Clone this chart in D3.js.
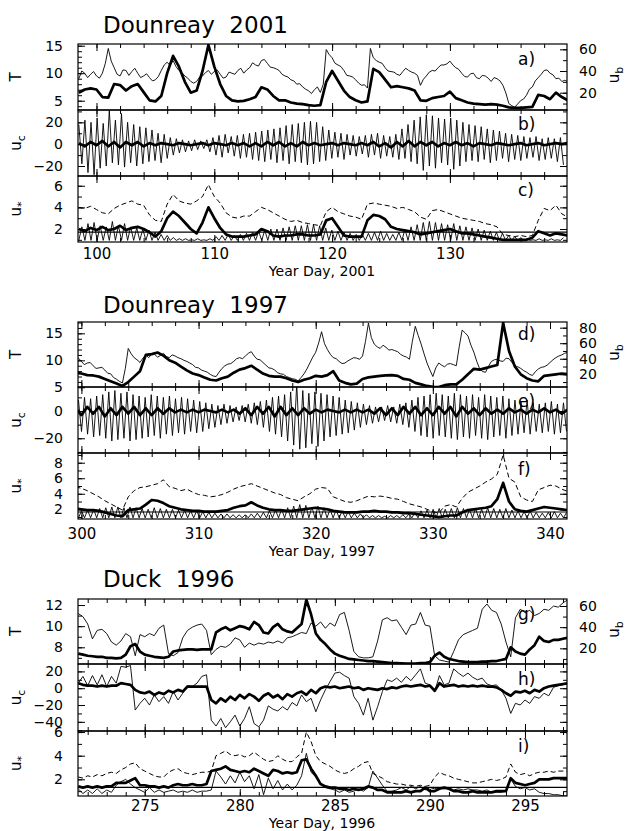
<!DOCTYPE html>
<html>
<head>
<meta charset="utf-8">
<script src="https://cdn.jsdelivr.net/npm/d3@7"></script>
<style>
  body { margin: 0; background: #fff; }
  svg text { font-family: "DejaVu Sans", sans-serif; fill: #000; }
</style>
</head>
<body>
<svg id="fig" width="626" height="831"></svg>
<script>
// ---------------------------------------------------------------
// Dounreay 2001
// ---------------------------------------------------------------
const start2001 = 98.5, step2001 = 0.5;      // half-day series
const stepT2001 = 0.25;                       // wave period is quarter-day
const T2001 = [9,10.4,10,9.2,9.8,10.3,9.5,9.1,10,11.8,14.5,12.2,11,9.8,9.5,10.6,10.5,9.6,10.3,10.9,
  10,9.2,9.5,9.9,9.2,8.6,8.8,9.4,10.5,11.5,12,11.4,12.3,11.2,10.5,10.1,9.5,9.1,8.5,8.2,
  8.5,9.3,9.5,10.1,10.5,9.8,10.3,10.6,9.8,9.1,9.3,10.2,10,9.8,10.5,10.9,10,10.6,11,11.9,
  11.5,11.3,12.3,12.5,11.8,11.1,11,10.8,10.5,9.8,9.5,9.3,8.8,8.6,8,8.1,7.5,7.1,6.8,6.3,
  7,7.5,6.5,8,14.3,13.4,12.8,11.8,11.5,11.2,10.5,9.6,9.5,9.3,8.8,8.2,7.8,7.9,7.3,14.5,
  12.8,12.3,12,11.8,11,10.4,10.3,10.2,9.8,9.6,10.3,10.9,10.5,10.2,10,9.6,7.8,8.9,9.5,10.2,
  10.5,10.4,11,11.5,11.5,11.7,12.2,11.5,11,10.7,10,9.4,9.3,9.9,10,9.2,9,9.6,9.5,9.1,
  8.5,9.2,9,8.6,7.8,6.4,4.5,4.1,3.8,4.4,5,5.3,6,7.1,7.5,8.6,9.2,9.8,10.5,10.6,
  10,9.7,9,9.1,8.5,8.7,8.5];
const ub2001 = [20,23,24,23,16,15.5,28,27,22,26,
  28,20.5,13,12,17,38,54,44,30,20,
  22,40,64,44,28,17,13,12,12.5,14,
  16,25,23,17,13,13,11,10,9.5,8.5,
  8,8.5,30,40,31,22,16,13,11,12,
  42,39,32,25,26,25,24,22,13,12.5,
  15,16,17,21,15,13,11,10,9.5,9,
  9.5,9,8,6.5,6,6,6.5,7,18,17,
  14,20,16,13];
const ucMean2001 = [1,-2,2,-1,3,-2,2,-3,2,-1,
  2,-2,1,-1,1,0,-1,1,0,-1,
  0,1,-1,1,0,-1,1,-1,1,-2,
  1,-2,2,-1,2,-2,1,-2,2,-1,
  1,-1,0,1,-1,1,0,-1,1,-1,
  2,-2,1,-3,2,-2,3,-2,2,-1,
  2,-2,1,-1,2,-1,1,-2,1,0,
  -1,1,0,-1,0,1,-1,0,1,-1,
  0,1,0,1];
const ustarWave2001 = [4.0,3.9,4.1,3.8,3.5,3.4,3.9,4.2,4.4,4.6,
  4.3,4.2,3.3,2.8,2.7,4.3,5.2,4.6,4.4,4.3,
  4.6,5.0,6.1,5.0,4.4,3.5,3.1,3.0,3.2,3.2,
  3.6,4.0,3.8,3.5,3.2,2.9,2.7,2.8,2.6,2.5,
  2.4,2.3,3.6,4.0,3.6,3.4,3.2,3.1,2.9,4.3,
  4.4,4.3,4.2,4.1,3.9,4.0,3.8,3.6,3.1,2.9,
  3.7,3.8,3.6,3.4,3.2,3.0,2.9,2.8,2.7,2.5,
  2.4,2.2,1.5,1.4,1.3,1.4,1.3,1.4,2.8,3.9,
  3.7,4.2,3.4,3.1];
const ustarMean2001 = [2.0,1.8,2.1,1.9,2.2,1.9,2.0,2.3,1.9,2.1,
  2.2,2.0,1.7,1.3,1.8,3.0,3.6,3.2,2.6,2.0,
  1.6,2.6,4.0,3.0,2.1,1.5,1.3,1.3,1.3,1.4,
  1.5,2.0,1.8,1.4,1.3,1.4,1.4,1.5,1.5,1.4,
  1.4,1.5,2.8,3.0,2.2,1.4,1.3,1.3,1.3,2.8,
  3.3,3.2,2.9,2.2,2.0,1.9,1.8,1.7,1.5,1.6,
  1.7,1.8,1.9,2.0,1.8,1.6,1.6,1.5,1.4,1.3,
  1.2,1.1,1.0,1.0,1.0,1.0,1.0,1.2,1.8,1.6,
  1.4,1.6,1.5,1.4];
// tidal cycles (M2, 0.5175 d): one flood maximum and one ebb minimum per cycle
const tide2001Start = 98.5, tidePeriod = 0.5175;
const ucFlood2001 = [18,22,20,24,19,31,22,28,20,18,16,15,
  13,10,9,6,5,4, 3,4,3,4, 6,8,9,7,
  8,9,10,11,12,13,14,15,17,18,19,20,21,20,
  16,13,11,10,9,8,7,8,9,10,8,7,9,
  14,18,22,25,27,26,24, 23,24,22,20,18,17,
  16,14,13,12,10,9, 8,7,6,7,5,6,5,6];
const ucEbb2001 = [-18,-26,-28,-22,-20,-17,
  -19,-21,-17,-20,-18,-16,-15,-17,-13,
  -10,-8,-7,-6,-5,-4,-7,
  -10,-12,-8,-11,-13,-12,
  -14,-15,-16,-14,-17,-15,-18,-16,-17,-19,-18,-16,
  -15,-13,-12,-14,-10,-11,-9,-12,-10,-13,-11,-12,-14,-13,
  -16,-18,-24,-20,-22,-17,-19,-23,-20,-16,
  -15,-16,-14,-17,-15,-13,-16,-14,-15,-13,-12,-15,-14,-13,-16,-19];
const ustarTide2001 = [2.2,2.5,2.6,2.3,2.2,2.7,2.3,2.5,2.2,2.1,2.0,1.9,
  1.7,1.5,1.4,1.2,1.1,1.1, 1.0,1.1,1.0,1.1, 1.3,1.4,1.5,1.4,
  1.5,1.6,1.7,1.8,1.9,2.0,2.0,2.1,2.2,2.3,2.3,2.4,2.4,2.3,
  2.1,1.9,1.8,1.7,1.6,1.5,1.5,1.6,1.7,1.8,1.6,1.5,1.7,
  2.0,2.2,2.4,2.6,2.7,2.6,2.5, 2.4,2.5,2.3,2.2,2.1,2.0,
  1.9,1.8,1.7,1.6,1.4,1.3, 1.2,1.1,1.0,1.1,1.0,1.1,1.0,1.2];
const ustarSlack2001 = 0.95;
const ustarCrit2001 = 1.72;

// ---------------------------------------------------------------
// Dounreay 1997
// ---------------------------------------------------------------
const start1997 = 299.5, step1997 = 0.5, stepT1997 = 0.25;
const T1997 = [10,10.4,9.8,9.2,9.5,9.6,9,8.5,8.6,8.7,8.2,7.6,7.5,6.8,6.5,6.1,5.8,8.5,12.2,11.2,
  10.5,10.1,9.6,10.4,11,10.5,11.2,11.1,10.6,10.9,11.3,10.7,10.5,11.0,10.8,10.5,10.3,10.0,9.8,9.5,
  9.2,8.7,8.6,8.2,8,7.8,7.4,7.1,7,7.8,8.5,9.0,9.3,9.4,9.8,10.3,10.5,10.3,10.8,11.3,
  11.6,10.8,10.2,10.1,9.6,9.1,8.6,8.5,8.2,7.7,7.5,7.4,7,6.8,6.6,6.5,6.2,6.8,7.5,8.4,
  9.5,10.6,11.5,13.2,15.3,13.1,12,11.1,10.5,10.3,9.8,9.4,9.5,9.9,10.2,10.5,10.4,10.2,10.8,13.5,
  16.9,14.2,13,12.5,12.2,12.8,12.4,11.9,12,11.8,11.6,11.1,10.8,10.6,10.2,13.5,16.3,14.6,13,11.2,
  9.5,8.2,7,8.6,9.5,9.1,8.8,9.3,9.4,9.2,9,12.5,15.6,15.1,14.5,12.8,11.5,9.8,8.4,7.9,
  7.8,8.9,9.8,10.1,10.2,9.9,9.8,10.4,10.3,9.6,9,8.8,8.5,8.1,7.8,7.4,7.2,7.9,8.4,8.7,
  8.8,9.1,9.6,10.1,10.5,10.8,11,11.3,11.5];
const ub1997 = [22,21,19,18.5,17,14,11,8,5,10,
  17,24,45,46,48,44,38,35,30,25,
  21,19,16,13,12,15,17,22,26,28,
  31,26,21,18,17,17,15,12,10,13,
  15,18,17,19,24,12,9,7,8,14,
  16,17,18,18.5,19,18,14,13,9,7,
  5,4,3.5,6,7,7,13,20,27,26,
  28,30,32,86,50,30,20,15,12,11,
  18,19,20,21,20];
const ucMean1997 = [2,-3,3,-2,3,-4,2,-3,3,-2,
  3,-3,2,-3,2,-2,2,-1,1,-1,
  1,-1,1,0,-1,1,-1,1,-2,2,
  -3,3,-2,3,-4,3,-3,2,-3,2,
  -2,1,-1,1,0,-1,1,-1,1,-1,
  1,-2,2,-3,2,-3,3,-2,3,-3,
  2,-3,3,-2,3,-4,3,-2,2,-3,
  2,-2,1,-2,2,-1,1,-2,1,-1,
  2,-1,1,-2,1];
const ustarWave1997 = [4.9,4.7,4.4,4.0,3.6,3.1,2.7,2.3,1.9,3.6,
  4.4,4.8,4.9,5.1,5.3,5.8,4.9,4.7,4.4,4.6,
  4.2,3.9,3.8,3.6,3.7,3.9,4.2,4.6,4.9,5.1,
  5.3,5.0,4.7,4.4,4.1,3.9,3.5,3.3,3.1,3.6,
  4.0,4.6,4.8,4.7,3.6,3.3,3.0,2.9,3.1,3.4,
  3.7,3.6,3.7,3.6,3.4,3.3,3.0,2.7,2.5,2.3,
  2.0,1.7,1.5,2.4,2.6,2.3,3.4,4.2,4.6,5.0,
  5.5,5.9,6.5,9.0,6.0,5.5,3.6,3.2,3.0,4.5,
  4.8,5.1,5.0,4.6,4.3];
const ustarMean1997 = [2.1,2.0,1.9,1.9,1.8,1.6,1.4,1.2,1.1,1.9,
  2.0,2.1,2.6,3.2,3.1,2.8,2.4,2.2,2.0,1.9,
  1.8,1.8,1.7,1.7,1.7,1.8,1.9,2.2,2.4,2.5,
  2.9,2.5,2.2,2.0,1.9,1.9,1.8,1.8,1.9,2.0,
  2.1,2.2,2.1,2.0,1.8,1.7,1.6,1.6,1.6,1.7,
  1.7,1.8,1.7,1.7,1.6,1.6,1.5,1.5,1.4,1.3,
  1.2,1.1,1.0,1.1,1.2,1.2,1.6,1.9,2.0,2.1,
  2.2,2.4,3.3,5.4,3.0,2.0,1.8,1.7,1.9,2.1,
  2.3,2.2,2.1,2.0,1.9];
const tide1997Start = 299.75;
const ucFlood1997 = [8,10,9,11,12,14,15,13,14,12,
  11,10,12,11,10,11,9,10,9,8,
  7,6,5,4,5,4,3,4,5,6,7,
  8,10,11,12,14,20,15,13,14,13,
  12,11,10,8,7,6,5,4,3,
  3,4,3,5,6,8,10,
  11,12,13,12,11,13,12,11,12,10,12,11,10,11,
  9,8,7,8,6,5,6,7,5,6];
const ucEbb1997 = [-15,-17,-19,-18,-20,-22,-21,-20,-22,-21,
  -20,-19,-18,-20,-17,-18,-16,-17,-15,-16,
  -15,-13,-12,-10,-9,-8,-7,-8,-9,-10,-12,
  -15,-17,-19,-22,-25,-28,-27,-24,-26,-22,
  -19,-18,-17,-16,-14,-12,-10,-9,-8,
  -7,-8,-9,-10,-12,-15,-18,
  -19,-20,-18,-19,-20,-21,-19,-20,-18,-20,-21,-19,-18,-20,
  -18,-17,-16,-17,-15,-16,-15,-17,-16,-15];
const ustarTide1997 = [1.8,1.9,2.0,2.1,2.2,2.3,2.3,2.2,2.3,2.2,
  2.1,2.0,2.2,2.1,2.0,2.0,1.9,1.9,1.8,1.8,
  1.7,1.6,1.5,1.4,1.4,1.3,1.3,1.3,1.4,1.5,1.6,
  1.8,1.9,2.0,2.2,2.4,2.6,2.5,2.3,2.4,2.2,
  2.0,1.9,1.8,1.7,1.5,1.4,1.3,1.2,1.2,
  1.1,1.2,1.2,1.3,1.4,1.6,1.8,
  1.9,2.0,2.1,2.0,2.1,2.2,2.1,2.0,2.1,2.0,2.2,2.1,2.0,2.1,
  1.9,1.8,1.7,1.8,1.6,1.5,1.6,1.7,1.5,1.6];
const ustarSlack1997 = 0.9;
const ustarCrit1997 = 1.65;

// ---------------------------------------------------------------
// Duck 1996 : quarter-day samples starting at day 271.5
// ---------------------------------------------------------------
const start1996 = 271.5, step1996 = 0.25;
const T1996 = [11.2,10.9,10.2,8.8,9.6,9.7,9.3,8.5,8.2,8.6,
  9.3,9.0,7.2,9.2,9.0,9.3,9.1,9.8,10.1,7.4,
  7.2,7.5,8.9,9.6,9.9,10.1,10.2,9.6,7.3,7.8,
  8.1,8.0,8.3,8.9,8.7,8.0,8.4,8.2,8.4,8.3,
  8.5,8.4,8.6,8.4,8.9,9.0,9.2,9.4,9.3,10.3,
  10.0,10.4,9.8,10.3,10.0,11.1,11.3,9.6,7.6,7.1,
  7.0,7.0,7.1,8.6,10.6,10.8,10.5,10.6,9.9,9.2,
  10.1,10.2,11.3,10.1,10.0,7.2,6.8,6.7,6.6,7.6,
  8.7,9.2,9.4,9.6,9.8,11.6,12.1,11.5,11.3,10.2,
  8.5,7.1,10.8,11.6,11.3,11.5,11.0,11.2,11.6,11.5,
  11.9,11.8,12.2,12.5];
const ub1996 = [15,14,13,12.5,12,12,11,11,10.5,11,
  14,22,24,17,14,13,12,11.5,11,12,
  17,18,18.5,19,19,18.5,19,19,19,35,
  38,40,37,39,41,40,38,45,42,35,
  34,40,43,38,36,35,39,43,66,52,
  34,28,24,19,15,13,11.5,10,9.5,9,
  8.5,8,8,7.5,7,6.5,6,6,5.8,5.5,
  5.5,5.5,6,6,7,13,16,12,10,9,
  8,7.5,7,7,7,7.5,7.5,8,8,9,
  10,21,17,15,14,19,23,31,27,26,
  28,28,29,30];
const uc1996 = [6,14,3,15,4,16,2,14,6,26,
  25,27,-26,-18,-12,-20,-8,-16,-10,-18,
  -4,-14,-6,3,2,6,14,16,-38,-45,
  -36,-47,-40,-32,-45,-36,-22,-42,-46,-38,
  -21,-25,-27,-22,-26,-17,-21,-8,-16,-12,
  -28,-14,-2,8,18,19,15,12,-10,-18,
  -32,-12,-38,-22,-4,10,8,12,7,14,
  9,16,23,6,4,-4,15,4,6,23,
  18,14,18,13,10,12,5,3,4,-2,
  -12,-30,-18,-20,-14,-18,-10,-12,-6,-9,
  1,3,4,5];
const ucMean1996 = [6,4,3,3,2,3,2,3,3,6,
  5,4,-2,-5,-6,-4,-8,-5,-7,-3,
  -5,-2,-4,2,2,2,2,2,-14,-18,
  -12,-16,-10,-14,-8,-12,-7,-10,-15,-9,
  -6,-11,-8,-13,-7,-10,-6,-4,-8,-2,
  -6,0,2,1,2,0,1,2,0,1,
  -2,0,-1,-2,0,-1,1,0,2,3,
  2,3,4,2,3,-3,6,2,3,4,
  2,3,2,3,2,3,2,2,1,-2,
  -6,-9,-4,-5,-3,-6,-2,-4,0,2,
  3,4,5,6];
const ustarWave1996 = [2.2,2.1,2.3,2.2,2.4,2.3,2.5,2.6,2.5,2.8,
  3.0,3.3,3.4,2.9,2.7,2.5,2.3,2.2,2.2,2.6,
  2.8,2.9,2.6,2.5,2.4,2.5,2.6,2.6,2.7,4.0,
  4.2,4.4,4.1,4.0,4.1,3.9,4.0,4.3,4.0,3.7,
  3.5,3.6,4.0,3.7,3.5,3.5,3.9,4.2,6.0,5.2,
  4.0,3.5,3.3,3.1,2.8,2.6,2.5,2.6,2.9,3.1,
  3.4,3.5,2.5,2.3,2.1,1.8,1.7,1.6,1.6,1.5,
  1.5,1.4,1.5,1.4,1.5,2.2,2.6,2.4,2.3,2.1,
  2.0,1.9,1.8,1.7,1.7,1.8,1.9,2.0,1.9,2.0,
  2.2,3.3,2.6,2.4,2.5,2.3,2.5,2.6,2.6,2.7,
  2.6,2.7,2.7,2.7];
const ustarMean1996 = [1.4,1.3,1.4,1.3,1.4,1.3,1.4,1.4,1.7,1.7,
  1.7,1.9,2.1,1.5,1.5,1.4,1.4,1.3,1.4,1.3,
  1.5,1.6,1.5,1.5,1.6,1.5,1.5,1.6,2.7,2.8,
  2.9,3.1,2.8,2.7,2.6,2.7,2.6,2.9,2.7,2.5,
  2.3,2.8,2.7,2.5,2.6,2.5,2.6,3.6,3.7,2.9,
  2.3,1.6,1.4,1.3,1.3,1.2,1.2,1.1,1.2,1.1,
  1.2,1.4,1.3,1.1,1.1,0.9,0.9,0.9,0.9,1.0,
  0.9,1.0,1.0,1.3,1.0,1.0,1.2,1.3,1.2,1.0,
  1.0,0.9,0.9,1.0,0.9,0.9,0.9,0.9,1.0,1.0,
  1.0,2.1,1.7,1.6,1.5,1.6,1.7,2.0,2.0,2.0,
  2.1,2.1,2.1,2.1];
const ustarCurrent1996 = [1.2,0.8,1.1,0.8,1.2,0.8,1.1,0.9,1.5,1.8,
  2.0,1.6,1.3,1.1,0.9,1.3,0.9,1.1,0.9,1.0,
  1.1,0.9,1.0,0.9,1.1,0.9,1.0,1.0,1.1,2.7,
  2.2,1.6,2.3,1.7,2.6,1.8,2.3,1.2,2.4,0.7,
  2.1,1.2,1.9,1.1,1.6,1.1,1.5,2.3,4.2,2.6,
  2.2,1.6,1.3,1.2,1.1,0.9,1.1,0.9,1.0,1.2,
  1.0,1.3,2.7,2.1,1.5,1.0,1.0,1.1,1.3,1.1,
  1.4,1.2,1.4,1.1,1.3,1.2,1.3,1.2,1.3,1.1,
  1.2,1.1,1.2,1.1,1.1,1.0,1.1,0.9,0.9,0.9,
  1.0,2.0,1.4,1.2,1.3,1.1,1.2,0.9,0.8,0.8,
  0.7,0.7,0.6,0.6];
const ustarCrit1996 = 1.32;

// ---------------------------------------------------------------
// helpers turning the arrays into [day, value] points
// ---------------------------------------------------------------
const regular = (vals, t0, dt) => vals.map((v, i) => [t0 + i * dt, v]);
function tidal(highs, lows, t0, period) {
  const pts = [];
  highs.forEach((h, i) => {
    pts.push([t0 + i * period, h]);
    if (i < lows.length) pts.push([t0 + (i + 0.5) * period, lows[i]]);
  });
  return pts;
}
function tidalAboveFloor(peaks, floor, t0, period) {
  const pts = [];
  peaks.forEach((p, i) => {
    pts.push([t0 + i * period, floor]);
    pts.push([t0 + (i + 0.5) * period, p]);
  });
  return pts;
}

// ---------------------------------------------------------------
// figure layout
// ---------------------------------------------------------------
const X_LEFT = 78, X_RIGHT = 567;
const TICK_FS = 14;

const groups = [
  {
    title: "Dounreay  2001", titleBase: 33,
    days: [98.43, 139.94], minorDays: d3.range(100, 140, 2), majorDays: [100, 110, 120, 130],
    xTitle: "Year Day, 2001", tickBase: 259, xTitleBase: 276,
    panels: [
      { top: 44, bottom: 110, tag: "a)", tagBase: 65,
        left: { domain: [3.31, 15.31], minor: d3.range(4, 16), major: [5, 10, 15], name: ["T"] },
        right: { domain: [4.06, 64.9], minor: d3.range(10, 61, 10), major: [20, 40, 60], name: ["u", "b"] },
        series: [
          { pts: regular(T2001, start2001, stepT2001), side: "left", kind: "thin" },
          { pts: regular(ub2001, start2001, step2001), side: "right", kind: "thick" } ] },
      { top: 110, bottom: 176, tag: "b)", tagBase: 130,
        left: { domain: [-29.15, 31.3], minor: d3.range(-20, 31, 10), major: [-20, 0, 20], name: ["u", "c"] },
        series: [
          { pts: tidal(ucFlood2001, ucEbb2001, tide2001Start, tidePeriod), side: "left", kind: "thin" },
          { pts: regular(ucMean2001, start2001, step2001), side: "left", kind: "thick" } ] },
      { top: 176, bottom: 242, tag: "c)", tagBase: 196,
        left: { domain: [0.8, 6.9], minor: d3.range(1, 7), major: [2, 4, 6], name: ["u", "*"] },
        crit: ustarCrit2001,
        series: [
          { pts: tidalAboveFloor(ustarTide2001, ustarSlack2001, tide2001Start, tidePeriod), side: "left", kind: "thin" },
          { pts: regular(ustarWave2001, start2001, step2001), side: "left", kind: "dash" },
          { pts: regular(ustarMean2001, start2001, step2001), side: "left", kind: "thick" } ] }
    ]
  },
  {
    title: "Dounreay  1997", titleBase: 313,
    days: [299.71, 341.45], minorDays: d3.range(300, 342, 2), majorDays: [300, 310, 320, 330, 340],
    xTitle: "Year Day, 1997", tickBase: 538.5, xTitleBase: 555.5,
    panels: [
      { top: 322, bottom: 387, tag: "d)", tagBase: 340,
        left: { domain: [5.06, 17.1], minor: d3.range(6, 18), major: [5, 10, 15], name: ["T"] },
        right: { domain: [3.65, 87.3], minor: d3.range(10, 81, 10), major: [20, 40, 60, 80], name: ["u", "b"] },
        series: [
          { pts: regular(T1997, start1997, stepT1997), side: "left", kind: "thin" },
          { pts: regular(ub1997, start1997, step1997), side: "right", kind: "thick" } ] },
      { top: 387, bottom: 453, tag: "e)", tagBase: 407,
        left: { domain: [-30.8, 17.6], minor: d3.range(-30, 17, 10), major: [-20, 0], name: ["u", "c"] },
        series: [
          { pts: tidal(ucFlood1997, ucEbb1997, tide1997Start, tidePeriod), side: "left", kind: "thin" },
          { pts: regular(ucMean1997, start1997, step1997), side: "left", kind: "thick" } ] },
      { top: 453, bottom: 519, tag: "f)", tagBase: 475,
        left: { domain: [0.75, 9.25], minor: d3.range(1, 10), major: [2, 4, 6, 8], name: ["u", "*"] },
        crit: ustarCrit1997,
        series: [
          { pts: tidalAboveFloor(ustarTide1997, ustarSlack1997, tide1997Start, tidePeriod), side: "left", kind: "thin" },
          { pts: regular(ustarWave1997, start1997, step1997), side: "left", kind: "dash" },
          { pts: regular(ustarMean1997, start1997, step1997), side: "left", kind: "thick" } ] }
    ]
  },
  {
    title: "Duck  1996", titleBase: 587,
    days: [271.49, 297.21], minorDays: d3.range(272, 298, 1), majorDays: [275, 280, 285, 290, 295],
    xTitle: "Year Day, 1996", tickBase: 811, xTitleBase: 827.5,
    panels: [
      { top: 599, bottom: 664, tag: "g)", tagBase: 620,
        left: { domain: [6.42, 12.57], minor: d3.range(7, 13), major: [8, 10, 12], name: ["T"] },
        right: { domain: [5.2, 66.6], minor: d3.range(10, 61, 10), major: [20, 40, 60], name: ["u", "b"] },
        series: [
          { pts: regular(T1996, start1996, step1996), side: "left", kind: "thin" },
          { pts: regular(ub1996, start1996, step1996), side: "right", kind: "thick" } ] },
      { top: 664, bottom: 731, tag: "h)", tagBase: 685,
        left: { domain: [-50.9, 28.8], minor: d3.range(-50, 21, 10), major: [-40, -20, 0, 20], name: ["u", "c"] },
        series: [
          { pts: regular(uc1996, start1996, step1996), side: "left", kind: "thin" },
          { pts: regular(ucMean1996, start1996, step1996), side: "left", kind: "thick" } ] },
      { top: 731, bottom: 796, tag: "i)", tagBase: 752,
        left: { domain: [0.59, 6.09], minor: d3.range(1, 7), major: [2, 4, 6], name: ["u", "*"] },
        crit: ustarCrit1996,
        series: [
          { pts: regular(ustarCurrent1996, start1996, step1996), side: "left", kind: "thin" },
          { pts: regular(ustarWave1996, start1996, step1996), side: "left", kind: "dash" },
          { pts: regular(ustarMean1996, start1996, step1996), side: "left", kind: "thick" } ] }
    ]
  }
];

const styles = {
  thin:  { width: 0.9, dash: null },
  thick: { width: 2.7, dash: null },
  dash:  { width: 1.0, dash: "5,3" }
};

const svg = d3.select("#fig");
let clipId = 0;

function stripDomain(g) { g.select(".domain").remove(); g.attr("font-family", null).attr("font-size", TICK_FS); }

function axisName(x, y, name) {
  const t = svg.append("text")
    .attr("transform", `translate(${x},${y}) rotate(-90)`)
    .attr("text-anchor", "middle")
    .attr("font-size", 15);
  t.append("tspan").text(name[0]);
  if (name[1]) t.append("tspan").attr("dy", 4).attr("font-size", 11).text(name[1]);
}

groups.forEach(grp => {
  const x = d3.scaleLinear().domain(grp.days).range([X_LEFT, X_RIGHT]);

  svg.append("text")
    .attr("x", 103).attr("y", grp.titleBase)
    .attr("font-size", 23)
    .style("white-space", "pre")
    .text(grp.title);

  grp.panels.forEach((p, pi) => {
    const yL = d3.scaleLinear().domain(p.left.domain).range([p.bottom, p.top]);
    const yR = p.right ? d3.scaleLinear().domain(p.right.domain).range([p.bottom, p.top]) : yL;

    // data
    const id = "clip" + (clipId++);
    svg.append("clipPath").attr("id", id)
      .append("rect").attr("x", X_LEFT).attr("y", p.top)
      .attr("width", X_RIGHT - X_LEFT).attr("height", p.bottom - p.top);
    const plot = svg.append("g").attr("clip-path", `url(#${id})`);

    p.series.forEach(s => {
      const ys = s.side === "right" ? yR : yL;
      const st = styles[s.kind];
      plot.append("path")
        .datum(s.pts)
        .attr("fill", "none")
        .attr("stroke", "#000")
        .attr("stroke-width", st.width)
        .attr("stroke-linejoin", "round")
        .attr("stroke-dasharray", st.dash)
        .attr("d", d3.line().x(d => x(d[0])).y(d => ys(d[1])));
    });

    if (p.crit !== undefined) {
      plot.append("line")
        .attr("x1", X_LEFT).attr("x2", X_RIGHT)
        .attr("y1", yL(p.crit)).attr("y2", yL(p.crit))
        .attr("stroke", "#000").attr("stroke-width", 1.2);
    }

    // frame
    svg.append("rect")
      .attr("x", X_LEFT).attr("y", p.top)
      .attr("width", X_RIGHT - X_LEFT).attr("height", p.bottom - p.top)
      .attr("fill", "none").attr("stroke", "#000").attr("stroke-width", 1.2);

    // time ticks, top and bottom, pointing inwards
    [[d3.axisTop, p.top], [d3.axisBottom, p.bottom]].forEach(([axisFn, yPos]) => {
      svg.append("g").attr("transform", `translate(0,${yPos})`)
        .call(axisFn(x).tickValues(grp.minorDays).tickSizeInner(-4).tickSizeOuter(0).tickFormat(""))
        .call(stripDomain);
      svg.append("g").attr("transform", `translate(0,${yPos})`)
        .call(axisFn(x).tickValues(grp.majorDays).tickSizeInner(-7).tickSizeOuter(0).tickFormat(""))
        .call(stripDomain);
    });

    // left axis
    svg.append("g").attr("transform", `translate(${X_LEFT},0)`)
      .call(d3.axisLeft(yL).tickValues(p.left.minor).tickSizeInner(-4).tickSizeOuter(0).tickFormat(""))
      .call(stripDomain);
    svg.append("g").attr("transform", `translate(${X_LEFT},0)`)
      .call(d3.axisLeft(yL).tickValues(p.left.major).tickSizeInner(-7).tickSizeOuter(0).tickPadding(15)
        .tickFormat(d => d < 0 ? "\u2212" + Math.abs(d) : d))
      .call(stripDomain);
    axisName(21, (p.top + p.bottom) / 2, p.left.name);

    // right axis
    const rSpec = p.right || p.left;
    svg.append("g").attr("transform", `translate(${X_RIGHT},0)`)
      .call(d3.axisRight(yR).tickValues(rSpec.minor).tickSizeInner(-4).tickSizeOuter(0).tickFormat(""))
      .call(stripDomain);
    svg.append("g").attr("transform", `translate(${X_RIGHT},0)`)
      .call(d3.axisRight(yR).tickValues(rSpec.major).tickSizeInner(-7).tickSizeOuter(0).tickPadding(12)
        .tickFormat(p.right ? d => d : ""))
      .call(stripDomain);
    if (p.right) axisName(619, (p.top + p.bottom) / 2 - 2, p.right.name);

    // panel tag
    svg.append("text").attr("x", 518).attr("y", p.tagBase)
      .attr("font-size", 17).text(p.tag);

    // day labels under the last panel of the group
    if (pi === grp.panels.length - 1) {
      const pad = grp.tickBase - p.bottom - 0.71 * 15;
      svg.append("g").attr("transform", `translate(0,${p.bottom})`)
        .call(d3.axisBottom(x).tickValues(grp.majorDays).tickSize(0).tickPadding(pad))
        .call(stripDomain)
        .attr("font-size", 15);
      svg.append("text")
        .attr("x", 322).attr("y", grp.xTitleBase)
        .attr("text-anchor", "middle").attr("font-size", 14)
        .text(grp.xTitle);
    }
  });
});
</script>
</body>
</html>
